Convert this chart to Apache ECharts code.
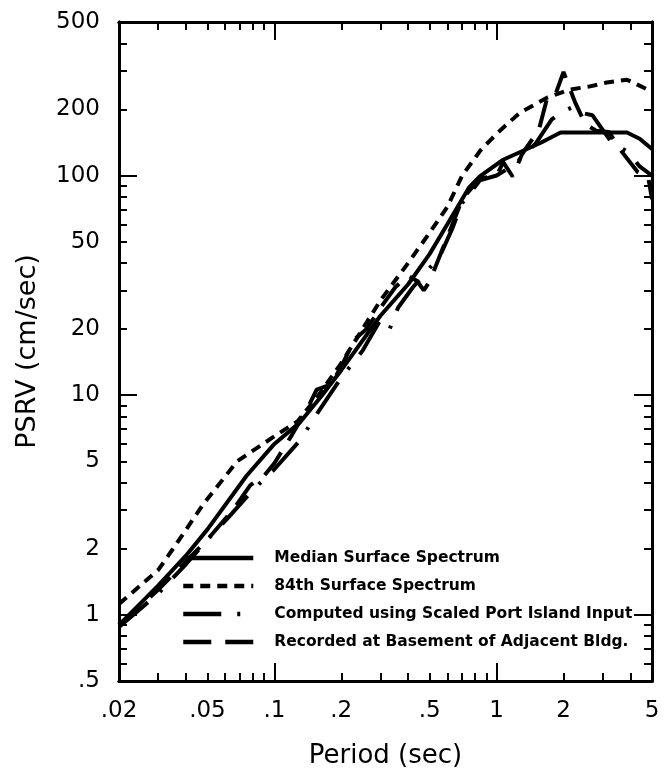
<!DOCTYPE html>
<html>
<head>
<meta charset="utf-8">
<script src="https://cdn.jsdelivr.net/npm/echarts@6/dist/echarts.min.js"></script>
<style>
  html, body { margin: 0; padding: 0; background: #fff; }
  #chart { width: 667px; height: 774px; }
</style>
</head>
<body>
<div id="chart"></div>
<script>
// axis ticks
const xTickLabels = [0.02, 0.05, 0.1, 0.2, 0.5, 1, 2, 5];
const xMinorTicks = [0.02, 0.03, 0.04, 0.05, 0.06, 0.07, 0.08, 0.09, 0.2, 0.3, 0.4, 0.5, 0.6, 0.7, 0.8, 0.9, 2, 3, 4, 5];
const xMajorTicks = [0.1, 1];
const yTickLabels = [0.5, 1, 2, 5, 10, 20, 50, 100, 200, 500];
const yMinorTicks = [0.6, 0.7, 0.8, 0.9, 2, 3, 4, 5, 6, 7, 8, 9, 20, 30, 40, 50, 60, 70, 80, 90, 200, 300, 400];
const yMajorTicks = [1, 10, 100];

const seriesNames = [
  "Median Surface Spectrum",
  "84th Surface Spectrum",
  "Computed using Scaled Port Island Input",
  "Recorded at Basement of Adjacent Bldg."
];

// period (sec) / PSRV (cm/sec)
const medianT = [0.02, 0.03, 0.04, 0.05, 0.075, 0.1, 0.13, 0.164, 0.2, 0.3, 0.4, 0.5, 0.6, 0.75, 0.84, 1.07, 1.58, 1.94, 3.86, 4.4, 5];
const medianV = [0.9, 1.36, 1.86, 2.45, 4.3, 6.0, 7.5, 10, 13, 23, 32, 44, 60, 88, 99, 118, 141, 157, 157, 147, 132];

const p84T = [0.02, 0.03, 0.035, 0.048, 0.068, 0.1, 0.127, 0.158, 0.2, 0.3, 0.4, 0.5, 0.6, 0.7, 0.85, 1.02, 1.27, 1.7, 2.12, 2.6, 3.13, 3.86, 4.6, 5];
const p84V = [1.12, 1.6, 2.0, 3.2, 5.0, 6.5, 7.6, 10, 14, 27, 40, 55, 72, 100, 131, 158, 193, 227, 246, 254, 265, 273, 251, 240];

const computedT = [0.02, 0.03, 0.04, 0.05, 0.062, 0.08, 0.1, 0.13, 0.16, 0.2, 0.25, 0.3, 0.33, 0.36, 0.42, 0.5, 0.55, 0.63, 0.7, 0.84, 1.0, 1.2, 1.5, 1.77, 1.94, 2.2, 2.4, 2.7, 3.3, 3.9, 4.4, 5];
const computedV = [0.88, 1.25, 1.7, 2.2, 2.77, 3.7, 4.6, 6.2, 8.6, 12, 16, 22, 20, 25, 31, 38, 42, 57, 75, 95, 100, 112, 140, 180, 193, 205, 193, 188, 141, 128, 110, 100];

const recordedT = [0.02, 0.03, 0.04, 0.05, 0.065, 0.078, 0.09, 0.1, 0.12, 0.14, 0.155, 0.18, 0.2, 0.23, 0.26, 0.3, 0.35, 0.4, 0.44, 0.47, 0.5, 0.56, 0.62, 0.7, 0.84, 1.0, 1.07, 1.18, 1.3, 1.55, 1.7, 1.85, 2.0, 2.26, 2.5, 2.8, 3.2, 3.6, 4.3, 4.8, 5];
const recordedV = [0.9, 1.3, 1.75, 2.2, 3.0, 3.9, 4.3, 4.9, 6.6, 8.6, 10.6, 11.2, 13.5, 18, 20, 25, 31, 35, 33, 30, 33, 44, 57, 78, 97, 100, 115, 99, 125, 162, 232, 238, 296, 214, 172, 160, 158, 131, 104, 99, 78];

const font = "DejaVu Sans";

function fmt(v) {
  return String(+Number(v).toPrecision(6)).replace(/^0\./, ".");
}

function zip(t, v) {
  return t.map((x, i) => [x, v[i]]);
}

function makeAxis(position, min, max, ticks, tickLen, labels, name) {
  const vertical = position === "left" || position === "right";
  return {
    type: "log",
    logBase: 10,
    min: min,
    max: max,
    position: position,
    axisLine: { show: true, onZero: false, lineStyle: { color: "#000", width: 3 } },
    axisTick: {
      show: true,
      inside: true,
      length: tickLen,
      customValues: ticks,
      lineStyle: { color: "#000", width: 2 }
    },
    axisLabel: labels
      ? {
          show: true,
          customValues: labels,
          formatter: fmt,
          color: "#000",
          fontFamily: font,
          fontSize: 23,
          margin: vertical ? 19 : 19
        }
      : { show: false },
    splitLine: { show: false },
    minorTick: { show: false },
    name: name || "",
    nameLocation: "middle",
    nameGap: vertical ? 78 : 62,
    nameTextStyle: { color: "#000", fontFamily: font, fontSize: vertical ? 27 : 26 }
  };
}

function makeSeries(name, t, v, dash) {
  return {
    name: name,
    type: "line",
    xAxisIndex: 0,
    yAxisIndex: 0,
    data: zip(t, v),
    symbol: "none",
    lineStyle: { color: "#000", width: 4, type: dash, cap: "butt" },
    itemStyle: { color: "#000" }
  };
}

const chart = echarts.init(document.getElementById("chart"), null, { renderer: "canvas" });
chart.setOption({
  animation: false,
  backgroundColor: "#fff",
  grid: { left: 119, right: 15, top: 22, bottom: 90, containLabel: false },
  legend: {
    data: seriesNames,
    orient: "vertical",
    left: 176,
    top: 545,
    itemWidth: 70,
    itemHeight: 16,
    itemGap: 12,
    itemStyle: { opacity: 0 },
    lineStyle: { width: 4.5 },
    textStyle: { color: "#000", fontFamily: font, fontSize: 15.5, fontWeight: "bold", lineHeight: 16, padding: [0, 0, 0, 16] }
  },
  xAxis: [
    makeAxis("bottom", 0.02, 5, xMinorTicks, 8, xTickLabels, "Period (sec)"),
    makeAxis("top", 0.02, 5, xMinorTicks, 8),
    makeAxis("bottom", 0.02, 5, xMajorTicks, 18),
    makeAxis("top", 0.02, 5, xMajorTicks, 18)
  ],
  yAxis: [
    makeAxis("left", 0.5, 500, yMinorTicks, 8, yTickLabels, "PSRV (cm/sec)"),
    makeAxis("right", 0.5, 500, yMinorTicks, 8),
    makeAxis("left", 0.5, 500, yMajorTicks, 18),
    makeAxis("right", 0.5, 500, yMajorTicks, 18)
  ],
  series: [
    makeSeries(seriesNames[0], medianT, medianV, "solid"),
    makeSeries(seriesNames[1], p84T, p84V, [10, 7]),
    makeSeries(seriesNames[2], computedT, computedV, [38, 16, 3, 16]),
    makeSeries(seriesNames[3], recordedT, recordedV, [28, 14])
  ]
});
</script>
</body>
</html>
